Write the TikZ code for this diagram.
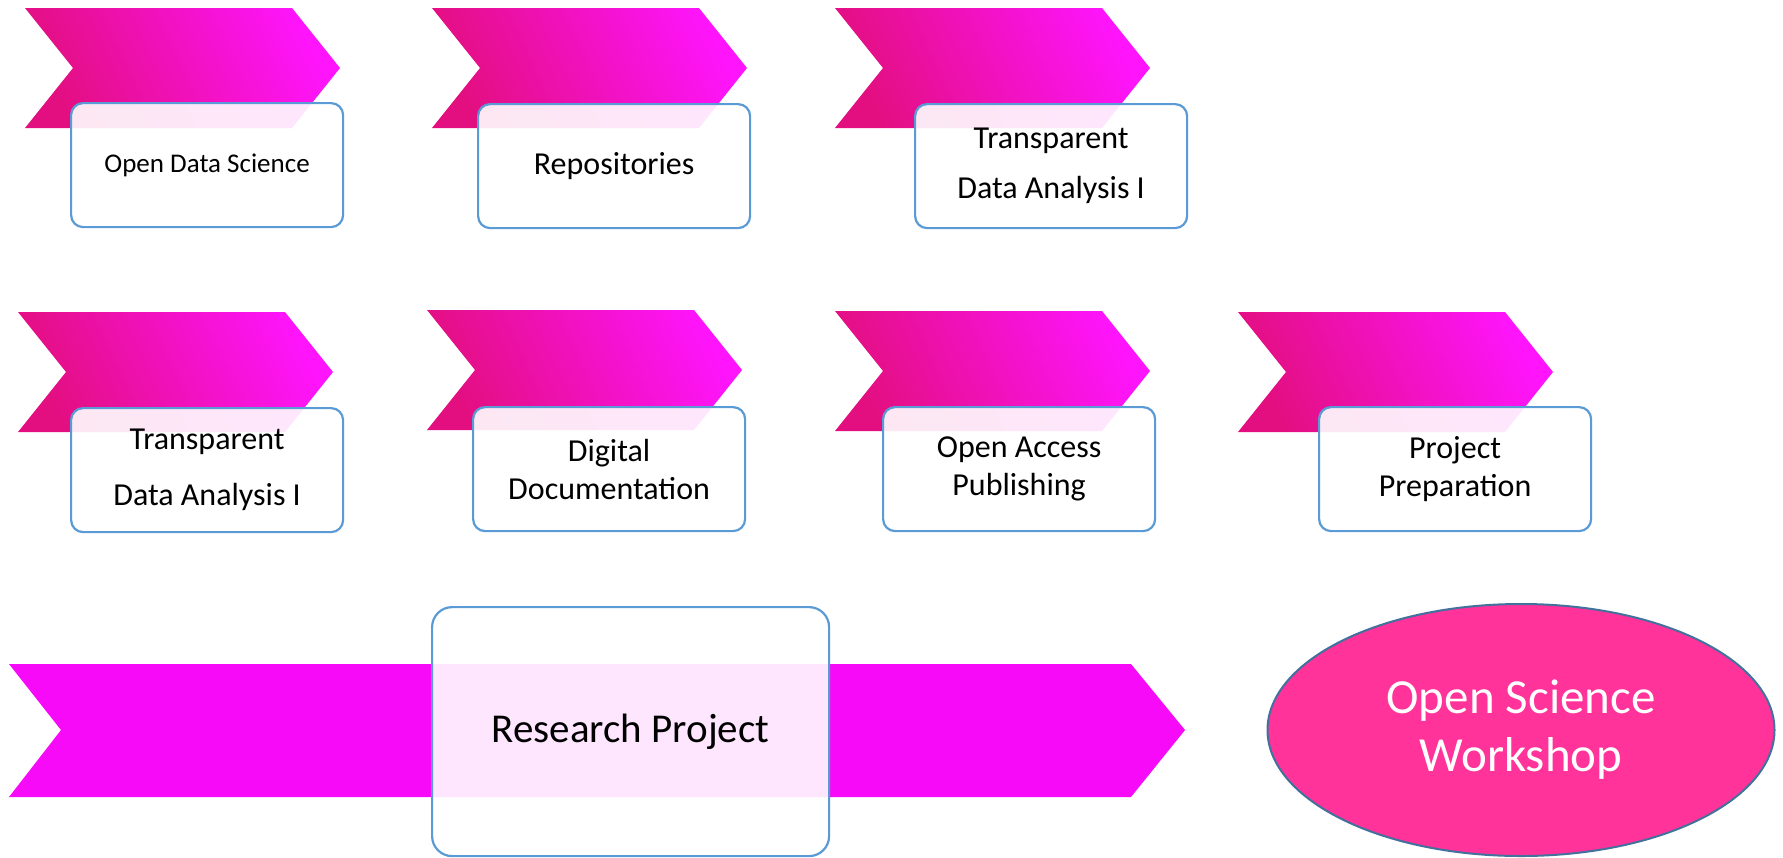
\documentclass[tikz,border=0pt]{standalone}
\usepackage{fontspec}
\setmainfont{Carlito}
\usetikzlibrary{positioning, shapes.geometric}

\definecolor{chevdark}{HTML}{E30F80}
\definecolor{chevlight}{HTML}{FF14FC}
\definecolor{bandpink}{HTML}{F70AF7}
\definecolor{boxline}{HTML}{5B9BD5}
\definecolor{ovalfill}{HTML}{FF3399}
\definecolor{ovalline}{HTML}{41719C}

\begin{document}
\begin{tikzpicture}[
	x=1pt, y=-1pt,
	every node/.style={font=\fontsize{32}{38}\selectfont, align=center},
	topic/.style={draw=boxline, line width=2.2pt, rounded corners=12pt, fill=white, fill opacity=0.9, text opacity=1, minimum width=272pt, minimum height=124pt, inner sep=0pt, anchor=north west},
	chevshade/.style={top color=chevlight, bottom color=chevdark, shading angle=-65},
	oval/.style={ellipse, draw=ovalline, line width=2pt, fill=ovalfill, text=white, minimum width=507pt, minimum height=252pt, font=\fontsize{49}{58}\selectfont}
	]
	\useasboundingbox (0,0) rectangle (1783,857);
	
	% Chevrons (both rows)
	\foreach \cx/\cy in {25/8, 432/8, 835/8, 18/312, 427/310, 835/311, 1238/312} {
		\shade[chevshade] (\cx,\cy) -- ++(267,0) -- ++(48,60) -- ++(-48,60) -- ++(-267,0) -- ++(48,-60) -- cycle;
	}
	
	% Long arrow
	\fill[bandpink] (9,664) -- (1131,664) -- (1185,730) -- (1131,797) -- (9,797) -- (61,730) -- cycle;
	
	% First row
	\node[topic, font=\fontsize{27}{32}\selectfont] (ods) at (70,102) {Open Data Science};
	\node[topic] (repos) at (477,103) {Repositories};
	\node[topic] (tda1) at (914,103) {Transparent\\[12pt]Data Analysis I};
	
	% Second row
	\node[topic] (tda2) at (70,407) {Transparent\\[18pt]Data Analysis I};
	\node[topic] (digdoc) at (472,406) {Digital\\Documentation};
	\node[topic] (oapub) at (882,406) {Open Access\\Publishing};
	\node[topic] (projprep) at (1318,406) {Project\\Preparation};
	
	% Third row
	\node[topic, minimum width=397pt, minimum height=249pt, rounded corners=20pt, font=\fontsize{41}{48}\selectfont] (research) at (431,606) {Research Project};
	\node[oval] (workshop) at (1521,730) {Open Science\\Workshop};
	
\end{tikzpicture}
\end{document}
